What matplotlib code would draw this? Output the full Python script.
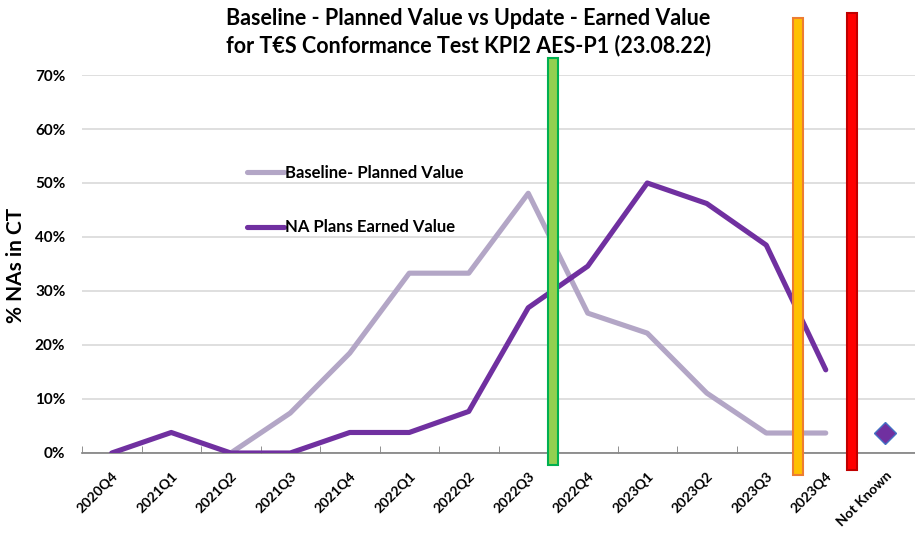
import matplotlib.pyplot as plt
from matplotlib.patches import Rectangle
import numpy as np

quarters = ["2020Q4", "2021Q1", "2021Q2", "2021Q3", "2021Q4", "2022Q1", "2022Q2",
            "2022Q3", "2022Q4", "2023Q1", "2023Q2", "2023Q3", "2023Q4", "Not Known"]

# % of NAs in CT per quarter
baseline_pv = [np.nan, np.nan, 0.0, 7.4, 18.5, 33.3, 33.3, 48.1, 25.9, 22.2, 11.1, 3.7, 3.7, np.nan]
earned_value = [0.0, 3.8, 0.0, 0.0, 3.8, 3.8, 7.7, 26.9, 34.6, 50.0, 46.2, 38.5, 15.4, np.nan]
not_known_value = 3.7

# milestone markers (category position, bottom, top, fill, edge)
milestone_pos = [7.42, 11.53, 12.44]
milestone_bottom = [-2.2, -4.1, -3.2]
milestone_top = [73.1, 80.6, 81.5]
milestone_fill = ["#92D050", "#FFC000", "#FF0000"]
milestone_edge = ["#00B050", "#ED7D31", "#C00000"]

plt.rcParams["font.family"] = ["Lato", "DejaVu Sans"]

fig = plt.figure(figsize=(9.15, 5.33), dpi=100)
ax = fig.add_axes([82 / 915, 80 / 533, 833 / 915, 378 / 533])

x = np.arange(len(quarters))
ax.plot(x, baseline_pv, color="#B3A6C6", lw=3.7, solid_capstyle="round",
        label="Baseline- Planned Value", zorder=3)
ax.plot(x, earned_value, color="#7030A0", lw=3.7, solid_capstyle="round",
        label="NA Plans Earned Value", zorder=4)
ax.plot([len(quarters) - 1], [not_known_value], marker="D", ms=11,
        color="#7030A0", mec="#4472C4", mew=1, ls="none", zorder=5)

w = 0.17
for p, b, t, fc, ec in zip(milestone_pos, milestone_bottom, milestone_top,
                           milestone_fill, milestone_edge):
    ax.add_patch(Rectangle((p - w / 2, b), w, t - b, facecolor=fc, edgecolor=ec,
                           lw=1.5, clip_on=False, zorder=6))

ax.set_xlim(-0.5, len(quarters) - 0.5)
ax.set_ylim(0, 70)
ax.set_yticks(np.arange(0, 71, 10))
ax.set_yticklabels([f"{v}%" for v in range(0, 71, 10)], fontsize=11, fontweight="bold")
ax.yaxis.grid(True, color="#D9D9D9", lw=1.2)
ax.set_axisbelow(True)
ax.tick_params(axis="y", length=0, pad=12)

ax.set_xticks(x)
ax.set_xticklabels(quarters, rotation=45, ha="right", rotation_mode="anchor",
                   fontsize=10, fontweight="bold")
ax.set_xticks(np.arange(-0.5, len(quarters), 1), minor=True)
ax.tick_params(axis="x", which="major", length=0, pad=12)
ax.tick_params(axis="x", which="minor", direction="in", length=5, color="#7F7F7F")

for s in ["top", "right", "left"]:
    ax.spines[s].set_visible(False)
ax.spines["bottom"].set_color("#7F7F7F")
ax.spines["bottom"].set_linewidth(1.2)

fig.text(16 / 915, 1 - 265 / 533, "% NAs in CT", rotation=90, ha="center", va="center",
         fontsize=15, fontweight="bold")

fig.text(0.512, 0.985, "Baseline - Planned Value vs Update - Earned Value\n"
         "for T€S Conformance Test KPI2 AES-P1 (23.08.22)",
         ha="center", va="top", fontsize=15.5, fontweight="bold", linespacing=1.3)

leg = ax.legend(loc="upper left", bbox_to_anchor=(232 / 915, 383 / 533),
                bbox_transform=fig.transFigure, frameon=False, fontsize=12,
                handlelength=2.2, handletextpad=0.1, labelspacing=2.3)
for t in leg.get_texts():
    t.set_fontweight("bold")

fig.savefig("out.png", dpi=100)
